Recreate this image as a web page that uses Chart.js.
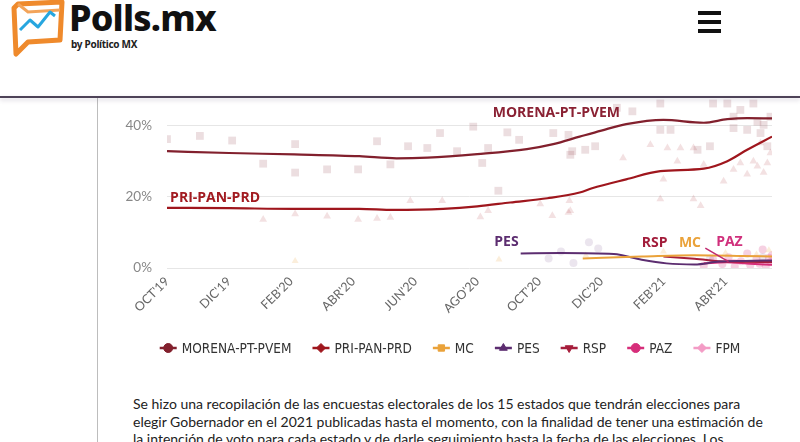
<!DOCTYPE html>
<html lang="es">
<head>
<meta charset="utf-8">
<title>Polls.mx - Gubernaturas 2021</title>
<script src="https://cdn.jsdelivr.net/npm/chart.js@4.4.1/dist/chart.umd.min.js"></script>
<style>
  html, body { margin: 0; padding: 0; background: #fff; }
  body { width: 800px; height: 442px; overflow: hidden; position: relative; font-family: Lato, "Noto Sans", sans-serif; }
  #header { position: absolute; left: 0; top: 0; width: 800px; height: 96px; background: #fff; z-index: 2; }
  #header .brand { position: absolute; left: 69px; top: -7px; font: 800 36px "Noto Sans", Lato, sans-serif; color: #111; letter-spacing: -0.8px; }
  #header .by { position: absolute; left: 71px; top: 37px; font: 700 10px "Noto Sans", sans-serif; color: #222; letter-spacing: -0.3px; }
  #header .logo { position: absolute; left: 8px; top: 0; }
  #burger { position: absolute; left: 698px; top: 11px; width: 23px; }
  #burger div { height: 4px; background: #111; margin-bottom: 5px; }
  #rule { position: absolute; left: 0; top: 96px; width: 800px; height: 2px; background: #4e4358; box-shadow: 0 2px 4px rgba(80,60,100,0.25); z-index: 3; }
  #side { position: absolute; left: 97px; top: 97px; width: 1px; height: 345px; background: #bdbdbd; }
  #wrap { position: absolute; left: 100px; top: 74px; width: 700px; height: 306px; }
  #note { position: absolute; left: 133px; top: 395px; font-size: 14px; line-height: 17.6px; color: #222; white-space: nowrap; }
</style>
</head>
<body>
<div id="header">
  <svg class="logo" width="60" height="58" viewBox="0 0 60 58">
    <path d="M10 4 L54 2 L52 40 L20 42 L8 54 L6 8 Z" fill="none" stroke="#ef8a2c" stroke-width="5" stroke-linejoin="round"/>
    <path d="M10 4 L20 12 L52 10" fill="none" stroke="#f3a45a" stroke-width="3"/>
    <path d="M12 30 L22 20 L30 27 L42 12 L47 16" fill="none" stroke="#27a6df" stroke-width="3" stroke-linejoin="round"/>
  </svg>
  <div class="brand">Polls.mx</div>
  <div class="by">by Político MX</div>
  <div id="burger"><div></div><div></div><div></div></div>
</div>
<div id="rule"></div>
<div id="side"></div>
<div id="wrap"><canvas id="pollChart"></canvas></div>
<div id="note">Se hizo una recopilación de las encuestas electorales de los 15 estados que tendrán elecciones para<br>elegir Gobernador en el 2021 publicadas hasta el momento, con la finalidad de tener una estimación de<br>la intención de voto para cada estado y de darle seguimiento hasta la fecha de las elecciones. Los</div>

<script>
// x values are months counted from OCT'19
const monthLabels = ["OCT'19", "DIC'19", "FEB'20", "ABR'20", "JUN'20", "AGO'20", "OCT'20", "DIC'20", "FEB'21", "ABR'21"];
const yTicks = [0, 20, 40];

const partyNames = ['MORENA-PT-PVEM', 'PRI-PAN-PRD', 'MC', 'PES', 'RSP', 'PAZ', 'FPM'];
const partyColors = ['#82202d', '#9f161d', '#eaa23a', '#5c2d70', '#a61e3c', '#d62e7a', '#f39bc5'];

// trend lines
const morenaX = [0, 2, 4.1, 6.2, 7.4, 8.4, 10, 11.6, 12.45, 13.3, 14.0, 14.8, 16, 17.3, 18.06, 18.7, 19.5];
const morenaY = [32.8, 32.3, 31.9, 31.4, 30.8, 31.0, 32.0, 33.4, 34.8, 36.9, 38.6, 40.4, 41.6, 40.8, 41.8, 42.1, 42.0];
const priX = [0, 2, 4.1, 6.2, 7.3, 8.9, 10, 11.06, 12.26, 13.3, 13.7, 14.8, 15.9, 17.3, 18.06, 18.7, 19.5];
const priY = [16.9, 16.8, 16.6, 16.6, 16.3, 16.6, 17.3, 18.4, 19.6, 21.2, 22.4, 24.9, 27.2, 27.9, 30.0, 33.2, 36.9];
const mcX = [13.4, 15.3, 17.0, 18.5, 19.5];
const mcY = [2.7, 3.2, 3.6, 3.4, 3.2];
const pesX = [11.4, 12.7, 14.4, 15.3, 16.1, 17.0, 17.8, 18.6, 19.5];
const pesY = [4.1, 4.2, 3.9, 2.3, 1.3, 1.0, 1.8, 2.0, 2.1];
const rspX = [16.0, 17.0, 18.06, 19.5];
const rspY = [3.2, 2.6, 1.8, 1.7];
const pazX = [17.3, 18.0, 18.8, 19.5];
const pazY = [1.3, 1.6, 1.2, 0.9];
const fpmX = [18.0, 18.8, 19.5];
const fpmY = [2.2, 1.9, 1.6];

// individual polls (faded markers)
const morenaPolls = [[0,36.2],[1.06,37.1],[2.1,35.8],[3.1,29.3],[4.13,34.8],[4.13,26.8],[5.16,27.7],[6.16,27.7],
  [6.77,35.6],[7.2,29.1],[7.77,34.2],[8.39,33.7],[8.8,37.9],[9.35,32.8],[9.87,39.7],[10.16,29.5],[10.35,33.7],
  [10.68,21.7],[10.97,38.1],[11.35,36.0],[12.45,37.9],[12.94,37.4],[13.0,31.8],[13.06,32.8],[13.48,33.2],[13.8,34.2],
  [14.5,45.0],[15.0,44.0],[15.9,38.8],[16.23,38.8],[15.9,46.2],[17.1,33.2],[17.5,34.2],[17.6,46.2],[18.06,46.2],
  [18.26,39.3],[18.26,42.5],[18.48,44.4],[18.7,38.8],[18.9,46.2],[19.03,41.1],[19.13,37.9],[19.23,40.2],[19.35,34.2],[19.45,42.5]];
const priPolls = [[3.1,13.6],[4.13,15.2],[5.16,14.5],[6.16,13.6],[6.77,13.9],[7.2,14.2],[7.84,18.9],[8.87,18.9],
  [10.1,14.3],[10.35,16.1],[12.03,18.0],[12.42,14.7],[12.94,15.6],[13.0,16.1],[12.97,18.9],[14.7,30.9],[15.58,34.6],
  [15.9,19.4],[16.0,24.9],[16.13,33.7],[16.45,30.0],[16.55,33.7],[16.97,33.7],[16.97,19.4],[17.2,17.5],[17.3,29.1],
  [17.94,24.4],[18.26,27.7],[18.48,29.5],[18.7,26.3],[18.9,30.0],[19.03,28.6],[19.13,35.1],[19.23,26.8],[19.35,29.5],[19.45,32.3]];
const mcPolls = [[4.13,2.0],[10.7,2.4],[13.5,3.5],[16.0,4.6],[18.0,4.2],[19.0,3.8],[19.4,5.0]];
const pesPolls = [[12.3,2.7],[13.1,1.4],[13.6,7.2],[13.9,5.5],[12.7,4.6],[17.5,2.6],[19.2,3.1]];
const smallPolls = [[17.3,0.6],[17.6,2.4],[17.9,1.1],[18.1,3.0],[18.3,0.4],[18.5,1.9],[18.7,4.1],[18.8,0.8],
  [19.0,2.6],[19.1,1.2],[19.2,5.2],[19.3,0.5],[19.4,2.9],[19.45,1.6],[19.5,3.6]];

function pairs(xs, ys) { return xs.map((x, i) => ({ x: x, y: ys[i] })); }
function pts(list) { return list.map(p => ({ x: p[0], y: p[1] })); }
function fade(hex, a) {
  const n = parseInt(hex.slice(1), 16);
  return 'rgba(' + (n >> 16) + ',' + ((n >> 8) & 255) + ',' + (n & 255) + ',' + a + ')';
}

const trendSets = [[morenaX, morenaY], [priX, priY], [mcX, mcY], [pesX, pesY], [rspX, rspY], [pazX, pazY], [fpmX, fpmY]];
const datasets = trendSets.map((s, i) => ({
  type: 'line',
  label: partyNames[i],
  data: pairs(s[0], s[1]),
  borderColor: partyColors[i],
  borderWidth: i < 2 ? 2.2 : 2,
  pointRadius: 0,
  cubicInterpolationMode: 'monotone',
  order: 1
}));
const pollSets = [
  [morenaPolls, partyColors[0], 'rect', 0.15, 5.5],
  [priPolls, partyColors[1], 'triangle', 0.13, 4.5],
  [mcPolls, partyColors[2], 'triangle', 0.18, 4],
  [pesPolls, partyColors[3], 'circle', 0.12, 4],
  [smallPolls, partyColors[5], 'circle', 0.22, 4]
];
pollSets.forEach(p => datasets.push({
  type: 'scatter',
  label: 'polls',
  data: pts(p[0]),
  pointStyle: p[2],
  pointRadius: p[4],
  pointBackgroundColor: fade(p[1], p[3]),
  pointBorderWidth: 0,
  order: 2
}));

// labels written next to the lines
const lineTags = [
  { text: 'MORENA-PT-PVEM', x: 10.5, y: 43.6, color: '#8a2133' },
  { text: 'PRI-PAN-PRD', x: 0.1, y: 19.6, color: '#a21b21' },
  { text: 'PES', x: 10.55, y: 7.4, color: '#5c2d70' },
  { text: 'RSP', x: 15.3, y: 6.9, color: '#a21c3a' },
  { text: 'MC', x: 16.5, y: 6.9, color: '#eaa23a' },
  { text: 'PAZ', x: 17.7, y: 7.4, color: '#d0307c' }
];
const tagPlugin = {
  id: 'tags',
  afterDatasetsDraw(chart) {
    const { ctx, scales: { x, y } } = chart;
    ctx.save();
    ctx.font = '700 14px "Open Sans", sans-serif';
    ctx.textBaseline = 'middle';
    lineTags.forEach(t => {
      ctx.fillStyle = t.color;
      ctx.fillText(t.text, x.getPixelForValue(t.x), y.getPixelForValue(t.y));
    });
    // pointer from the PAZ tag
    ctx.strokeStyle = '#c02a6f';
    ctx.lineWidth = 1.5;
    ctx.beginPath();
    ctx.moveTo(x.getPixelForValue(17.35), y.getPixelForValue(5.6));
    ctx.lineTo(x.getPixelForValue(18.1), y.getPixelForValue(1.8));
    ctx.stroke();
    ctx.restore();
  }
};

// legend: short line with a marker, then a condensed label
const legendShapes = [['circle', 0], ['rectRot', 0], ['rect', 0], ['triangle', 0], ['triangle', 180], ['circle', 0], ['rectRot', 0]];
const legendPlugin = {
  id: 'lineLegend',
  afterDraw(chart) {
    const ctx = chart.ctx;
    const squeeze = 0.84, gap = 21, mark = 17, textGap = 5;
    ctx.save();
    ctx.font = '14.5px "DejaVu Sans", sans-serif';
    const widths = partyNames.map(n => ctx.measureText(n).width * squeeze);
    const total = widths.reduce((a, w) => a + mark + textGap + w, 0) + gap * (partyNames.length - 1);
    let x = chart.width / 2 - total / 2;
    const y = chart.chartArea.bottom + 80;
    partyNames.forEach((n, i) => {
      const c = partyColors[i];
      ctx.strokeStyle = c; ctx.fillStyle = c; ctx.lineWidth = 2.5;
      ctx.beginPath(); ctx.moveTo(x, y); ctx.lineTo(x + mark, y); ctx.stroke();
      ctx.lineWidth = 1;
      Chart.helpers.drawPoint(ctx, { pointStyle: legendShapes[i][0], rotation: legendShapes[i][1], radius: 4.5, borderWidth: 1 }, x + mark / 2, y);
      ctx.fillStyle = '#333';
      ctx.textBaseline = 'middle';
      ctx.save();
      ctx.translate(x + mark + textGap, y);
      ctx.scale(squeeze, 1);
      ctx.fillText(n, 0, 1);
      ctx.restore();
      x += mark + textGap + widths[i] + gap;
    });
    ctx.restore();
  }
};

new Chart(document.getElementById('pollChart'), {
  data: { datasets: datasets },
  options: {
    responsive: true,
    maintainAspectRatio: false,
    animation: false,
    layout: { padding: { top: 5, right: 28, bottom: 50, left: 0 } },
    scales: {
      x: {
        type: 'linear', min: 0, max: 19.5,
        afterFit: s => { s.height = 62; },
        afterBuildTicks: s => { s.ticks = s.ticks.filter(t => t.value % 2 === 0); },
        grid: { display: false, drawTicks: false },
        border: { display: false },
        ticks: {
          stepSize: 2, autoSkip: false, maxRotation: 45, minRotation: 45, padding: 6,
          color: '#666', font: { family: 'Lato, "Noto Sans", sans-serif', size: 12.5 },
          callback: v => monthLabels[v / 2]
        }
      },
      y: {
        min: 0, max: 48,
        afterFit: s => { s.width = 67; },
        afterBuildTicks: s => { s.ticks = yTicks.map(v => ({ value: v })); },
        grid: { color: '#e6e6e6', drawTicks: false },
        border: { display: false },
        ticks: { padding: 15, color: '#888', font: { family: 'Lato, "Noto Sans", sans-serif', size: 13.5 }, callback: v => v + '%' }
      }
    },
    plugins: {
      tooltip: { enabled: false },
      legend: { display: false }
    }
  },
  plugins: [tagPlugin, legendPlugin]
});
</script>
</body>
</html>
